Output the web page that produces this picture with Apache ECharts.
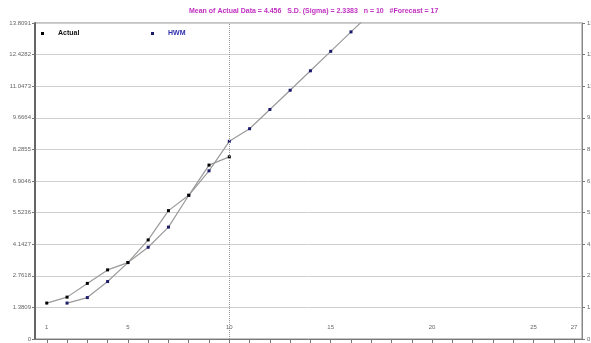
<!DOCTYPE html>
<html>
<head>
<meta charset="utf-8">
<script src="https://cdn.jsdelivr.net/npm/echarts@6/dist/echarts.min.js"></script>
<style>html,body{margin:0;padding:0;background:#fff;}#c{width:591px;height:343px;}</style>
</head>
<body>
<div id="c"></div>
<script>
const titleText = 'Mean of Actual Data = 4.456   S.D. (Sigma) = 2.3383   n = 10   #Forecast = 17';
const actualX = [1, 2, 3, 4, 5, 6, 7, 8, 9, 10];
const actualY = [1.57, 1.83, 2.43, 3.02, 3.34, 4.33, 5.61, 6.28, 7.60, 7.96];
const hwmX = [2, 3, 4, 5, 6, 7, 8, 9, 10, 11, 12, 13, 14, 15, 16, 17];
const hwmY = [1.57, 1.81, 2.51, 3.34, 4.01, 4.89, 6.28, 7.35, 8.64, 9.19, 10.03, 10.87, 11.72, 12.57, 13.42, 14.26];
const yTickLabels = ['0', '1.3809', '2.7618', '4.1427', '5.5236', '6.9046', '8.2855', '9.6664', '11.0473', '12.4282', '13.8091'];
const xTicks = [1,2,3,4,5,6,7,8,9,10,11,12,13,14,15,16,17,18,19,20,21,22,23,24,25,26,27];
const xTickLabels = [1, 5, 10, 15, 20, 25, 27];
const markerLine = 10;

const yMax = 13.8091;
const yStep = yMax / 10;
function yFmt(v) {
  const i = Math.round(v / yStep);
  return yTickLabels[i] !== undefined ? yTickLabels[i] : '';
}
function zip(xs, ys) { return xs.map((x, i) => [x, ys[i]]); }

const chart = echarts.init(document.getElementById('c'), null, {renderer: 'canvas'});
chart.setOption({
  animation: false,
  backgroundColor: '#ffffff',
  textStyle: {fontFamily: 'Liberation Sans, Arial, sans-serif'},
  title: {
    text: titleText,
    left: 184, top: 3,
    textStyle: {fontSize: 7, fontWeight: 'bold', color: '#c030c0', fontFamily: 'Liberation Sans'}
  },
  legend: [
    {
      data: ['Actual'], left: 36, top: 25, itemWidth: 3, itemHeight: 3, icon: 'rect',
      textStyle: {fontSize: 7, fontWeight: 'bold', color: '#111', padding: [0, 0, 0, 9]}
    },
    {
      data: ['HWM'], left: 146, top: 25, itemWidth: 3, itemHeight: 3, icon: 'rect',
      textStyle: {fontSize: 7, fontWeight: 'bold', color: '#3030b0', padding: [0, 0, 0, 9]}
    }
  ],
  grid: {
    left: 35, right: 9, top: 23, bottom: 4,
    outerBoundsMode: 'none', containLabel: false,
    show: true, borderColor: '#888', borderWidth: 1, backgroundColor: '#fff'
  },
  xAxis: {
    type: 'value', min: 0.42, max: 27.39,
    axisLine: {show: true, lineStyle: {color: '#777', width: 1}},
    axisTick: {show: true, customValues: xTicks, length: 4, inside: false, lineStyle: {color: '#777'}},
    axisLabel: {show: true, customValues: xTickLabels, inside: true, margin: 9, fontSize: 6, color: '#666'},
    splitLine: {show: false}
  },
  yAxis: [
    {
      type: 'value', min: 0, max: yMax, interval: yStep, position: 'left',
      axisLine: {show: true, lineStyle: {color: '#666', width: 2}},
      axisTick: {show: true, length: 3, lineStyle: {color: '#777'}},
      axisLabel: {formatter: yFmt, fontSize: 6, color: '#666', margin: 4},
      splitLine: {show: true, lineStyle: {color: '#cfcfcf', width: 1}}
    },
    {
      type: 'value', min: 0, max: yMax, interval: yStep, position: 'right',
      axisLine: {show: true, lineStyle: {color: '#888', width: 1}},
      axisTick: {show: true, length: 3, lineStyle: {color: '#777'}},
      axisLabel: {formatter: yFmt, fontSize: 6, color: '#666', margin: 5},
      splitLine: {show: false}
    }
  ],
  series: [
    {
      name: 'HWM', type: 'line', data: zip(hwmX, hwmY),
      symbol: 'rect', symbolSize: 3, showSymbol: true,
      itemStyle: {color: '#1a1a6a'},
      lineStyle: {color: '#9a9a9a', width: 1.2},
      clip: true, z: 3,
      markLine: {
        silent: true, symbol: 'none', label: {show: false},
        lineStyle: {color: '#999', type: 'dotted', width: 1},
        data: [{xAxis: markerLine}]
      }
    },
    {
      name: 'Actual', type: 'line', data: zip(actualX, actualY),
      symbol: 'rect', symbolSize: 3, showSymbol: true,
      itemStyle: {color: '#000'},
      lineStyle: {color: '#9a9a9a', width: 1.2},
      clip: true, z: 4
    }
  ]
});
</script>
</body>
</html>
